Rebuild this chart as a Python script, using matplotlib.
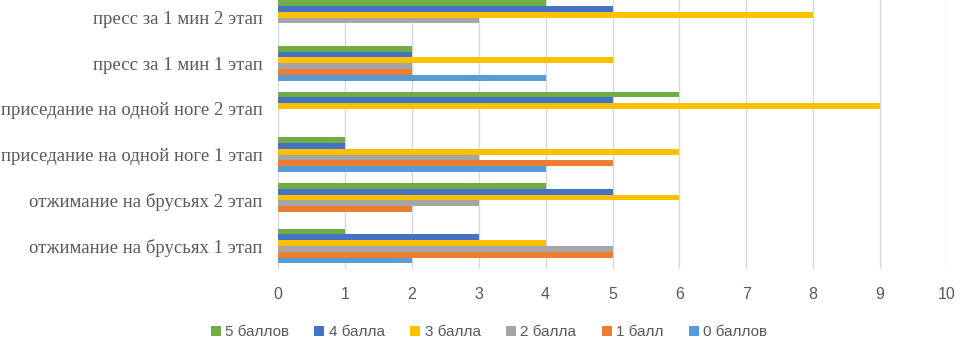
import numpy as np
import matplotlib.pyplot as plt

# Categories (bottom to top) and scores per series
categories = [
    "отжимание на брусьях 1 этап",
    "отжимание на брусьях 2 этап",
    "приседание на одной ноге 1 этап",
    "приседание на одной ноге 2 этап",
    "пресс за 1 мин 1 этап",
    "пресс за 1 мин 2 этап",
]
series_names = ["0 баллов", "1 балл", "2 балла", "3 балла", "4 балла", "5 баллов"]
ball0 = [2, 0, 4, 0, 4, 0]
ball1 = [5, 2, 5, 0, 2, 0]
ball2 = [5, 3, 3, 0, 2, 3]
ball3 = [4, 6, 6, 9, 5, 8]
ball4 = [3, 5, 1, 5, 2, 5]
ball5 = [1, 4, 1, 6, 2, 4]
x_ticks = list(range(0, 11))

colors = ["#5B9BD5", "#ED7D31", "#A5A5A5", "#FFC000", "#4472C4", "#70AD47"]
values = [ball0, ball1, ball2, ball3, ball4, ball5]

fig = plt.figure(figsize=(9.61, 3.41), dpi=100)
ax = fig.add_axes([278 / 961, 0.2114, (947 - 278) / 961, 0.804])

y = np.arange(len(categories))
h = 0.127
bars = []
for i, (name, vals, c) in enumerate(zip(series_names, values, colors)):
    off = (i - 2.5) * h
    b = ax.barh(y + off, vals, height=h, color=c, label=name, zorder=3)
    bars.append(b)

ax.set_xlim(0, 10)
ax.set_ylim(-0.5, 5.5)
ax.set_xticks(x_ticks)
ax.set_yticks(y)
ax.set_yticklabels(categories, family="Liberation Serif", fontsize=13.5, color="#595959")
ax.tick_params(axis="x", labelsize=11.5, labelcolor="#595959", length=0, pad=13)
ax.tick_params(axis="y", length=0, pad=11)
for lbl in ax.get_xticklabels():
    lbl.set_family("Liberation Sans")
ax.grid(axis="x", color="#D9D9D9", linewidth=1, zorder=0)
for s in ax.spines.values():
    s.set_visible(False)

handles = bars[::-1]
labels = series_names[::-1]
fig.legend(handles, labels, loc="center", bbox_to_anchor=(489 / 961, 1 - 332 / 341),
           ncol=6, frameon=False, handlelength=0.65, handleheight=0.65,
           handletextpad=0.3, columnspacing=1.65, labelcolor="#595959",
           prop={"family": "Liberation Sans", "size": 11})

fig.savefig("out.png", dpi=100)
